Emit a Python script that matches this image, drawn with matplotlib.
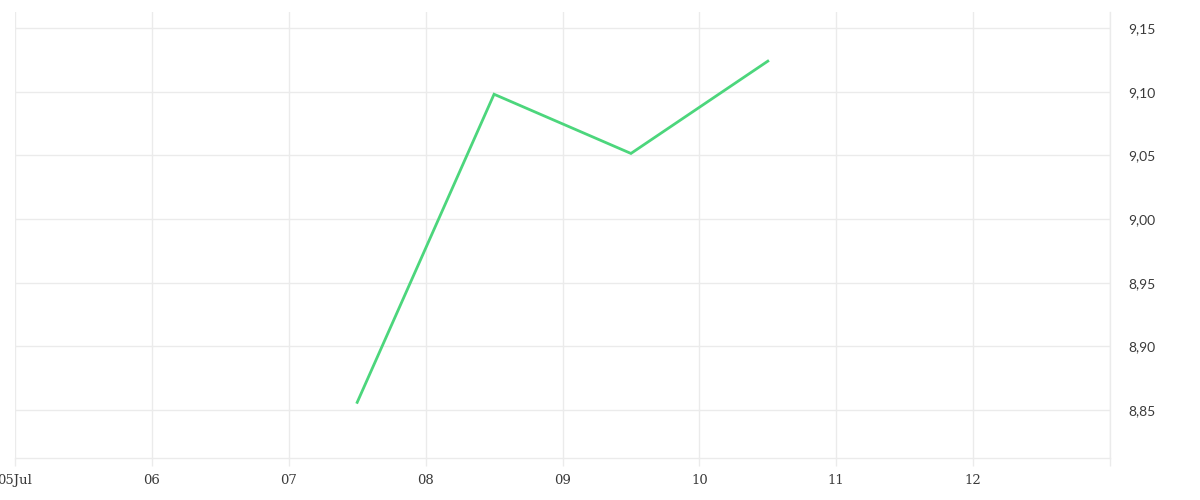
import matplotlib
matplotlib.use("Agg")
import matplotlib.pyplot as plt
import matplotlib.dates as mdates
from matplotlib.ticker import FuncFormatter, FixedLocator
from datetime import datetime

# data (points at midday)
dates = ["2024-07-07 12:00", "2024-07-08 12:00", "2024-07-09 12:00", "2024-07-10 12:00"]
values = [8.856, 9.098, 9.0515, 9.124]
y_ticks = [8.85, 8.90, 8.95, 9.00, 9.05, 9.10, 9.15]

GRID = "#ebebeb"
TEXT = "#3a3a3a"
LINE = "#4cd67c"

x = [datetime.strptime(d, "%Y-%m-%d %H:%M") for d in dates]

fig = plt.figure(figsize=(12, 5), dpi=100)
ax = fig.add_axes([15 / 1200, 42 / 500, 1095 / 1200, 446 / 500])

ax.plot(x, values, color=LINE, linewidth=2, solid_joinstyle="miter", zorder=3)

ax.set_xlim(datetime(2024, 7, 5), datetime(2024, 7, 13))
ax.set_ylim(8.8123, 9.1626)

# x ticks: one per day
ax.xaxis.set_major_locator(mdates.DayLocator())
def fmt_day(v, pos):
    d = mdates.num2date(v)
    if d.day == 13:
        return ""
    return d.strftime("%d%b") if pos == 0 else d.strftime("%d")
ax.xaxis.set_major_formatter(FuncFormatter(fmt_day))

ax.yaxis.set_major_locator(FixedLocator(y_ticks))
ax.yaxis.set_major_formatter(FuncFormatter(lambda v, p: f"{v:.2f}".replace(".", ",")))
ax.yaxis.tick_right()

ax.grid(True, color=GRID, linewidth=1)
ax.set_axisbelow(True)
for s in ["top", "left"]:
    ax.spines[s].set_visible(False)
for s in ["bottom", "right"]:
    ax.spines[s].set_color(GRID)
    ax.spines[s].set_linewidth(1)

ax.tick_params(axis="x", length=5.8, width=1, color=GRID, pad=6, labelcolor=TEXT)
ax.tick_params(axis="y", length=0, pad=13, labelcolor=TEXT)
for lbl in ax.get_xticklabels():
    lbl.set_fontfamily("DejaVu Serif")
    lbl.set_fontsize(9.5)
for lbl in ax.get_yticklabels():
    lbl.set_fontfamily("Lato")
    lbl.set_fontsize(10)

fig.savefig("out.png", dpi=100, facecolor="white")
plt.close()
